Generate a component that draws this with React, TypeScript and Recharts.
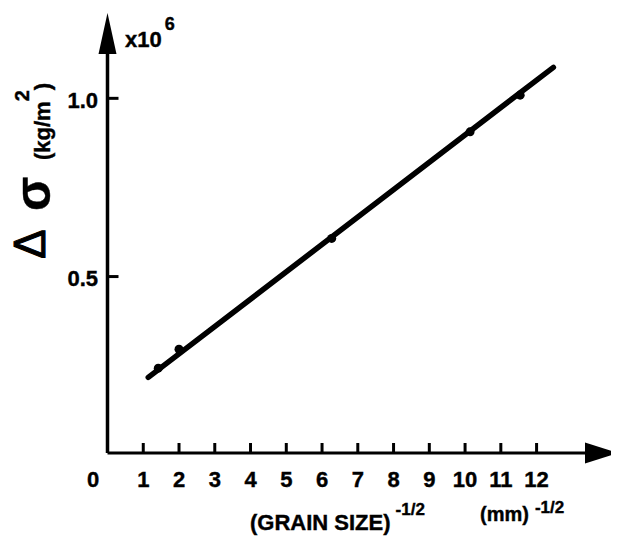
import { ComposedChart, Line, Scatter, XAxis, YAxis, ReferenceDot } from "recharts";

// measured points (x = grain size^-1/2, y = delta sigma in 10^6 kg/m^2)
const measuredX = [1.42, 2.0, 6.27, 10.14, 11.54];
const measuredY = [0.243, 0.296, 0.607, 0.906, 1.009];

// ends of the fitted straight line
const fitX = [1.14, 12.47];
const fitY = [0.217, 1.087];

const xTicks = [0, 1, 2, 3, 4, 5, 6, 7, 8, 9, 10, 11, 12];
const yTicks = [0.5, 1.0];

// axis ends (where the arrow heads sit)
const xDomain: [number, number] = [0, 13.41];
const yDomain: [number, number] = [0.005, 1.13];

const points = measuredX.map((x, i) => ({ x, y: measuredY[i] }));
const fit = fitX.map((x, i) => ({ x, y: fitY[i] }));

const FONT = '"Liberation Sans", Arial, Helvetica, sans-serif';

const XTick = (props: any) => {
  const { x, y, payload } = props;
  const v = payload.value;
  return (
    <g>
      {v !== 0 && <line x1={x} x2={x} y1={y} y2={y - 10} stroke="#000" strokeWidth={3} />}
      <text
        x={v === 0 ? x - 14.5 : x}
        y={y + 34}
        textAnchor="middle"
        fontFamily={FONT}
        fontWeight="bold"
        fontSize={22}
        fill="#000"
        stroke="#000"
        strokeWidth={0.4}
      >
        {v}
      </text>
    </g>
  );
};

const YTick = (props: any) => {
  const { x, y, payload } = props;
  return (
    <g>
      <line x1={x} x2={x + 11} y1={y} y2={y} stroke="#000" strokeWidth={3} />
      <text
        x={x - 9.5}
        y={y + 2}
        dy="0.36em"
        textAnchor="end"
        fontFamily={FONT}
        fontWeight="bold"
        fontSize={22}
        fill="#000"
        stroke="#000"
        strokeWidth={0.4}
      >
        {payload.value.toFixed(1)}
      </text>
    </g>
  );
};

const ArrowRight = (props: any) => {
  const { cx, cy } = props;
  return <path d={`M${cx - 2},${cy - 10.5} L${cx + 31},${cy} L${cx - 2},${cy + 10.5} Z`} fill="#000" />;
};

const ArrowUp = (props: any) => {
  const { cx, cy } = props;
  return <path d={`M${cx - 9},${cy + 2} L${cx},${cy - 39} L${cx + 9},${cy + 2} Z`} fill="#000" />;
};

const App = () => {
  return (
    <div style={{ position: "relative", width: 611, height: 530 }}>
      <ComposedChart width={611} height={530} margin={{ top: 44, right: 32, bottom: 45, left: 0 }}>
        <XAxis
          dataKey="x"
          type="number"
          domain={xDomain}
          ticks={xTicks}
          interval={0}
          allowDataOverflow
          height={40}
          tickSize={0}
          tickMargin={0}
          tick={<XTick />}
          axisLine={{ stroke: "#000", strokeWidth: 3 }}
        />
        <YAxis
          type="number"
          domain={yDomain}
          ticks={yTicks}
          interval={0}
          allowDataOverflow
          width={99.5}
          tickSize={0}
          tickMargin={0}
          tick={<YTick />}
          axisLine={{ stroke: "#000", strokeWidth: 3.5 }}
        />
        <Line
          data={fit}
          dataKey="y"
          stroke="#000"
          strokeWidth={5.5}
          strokeLinecap="round"
          dot={false}
          isAnimationActive={false}
        />
        <Scatter data={points} dataKey="y" fill="#000" isAnimationActive={false} />
        <ReferenceDot x={xDomain[1]} y={yDomain[0]} r={0} ifOverflow="visible" shape={ArrowRight} />
        <ReferenceDot x={xDomain[0]} y={yDomain[1]} r={0} ifOverflow="visible" shape={ArrowUp} />
      </ComposedChart>

      {/* axis titles, drawn in page coordinates */}
      <svg
        width={619}
        height={538}
        style={{ position: "absolute", left: -8, top: -8, pointerEvents: "none" }}
        fontFamily={FONT}
        fontWeight="bold"
        fill="#000"
        stroke="#000"
        strokeWidth={0.4}
      >
        <text x={125} y={47} fontSize={22}>
          x10
          <tspan dx={3} dy={-17} fontSize={18}>6</tspan>
        </text>
        <text
          x={45}
          y={244}
          fontSize={44}
          fontWeight="normal"
          strokeWidth={1}
          textAnchor="middle"
          transform="rotate(-90 45 244)"
        >
          Δ
        </text>
        <text x={50} y={194} fontSize={50} textAnchor="middle" transform="rotate(-90 50 194)">
          σ
        </text>
        <text x={50} y={160} fontSize={22} transform="rotate(-90 50 160)">
          (kg/m
          <tspan dy={-21} fontSize={20}>2</tspan>
          <tspan dy={21}>)</tspan>
        </text>
        <text x={250} y={530} fontSize={22}>
          (GRAIN SIZE)
          <tspan dx={5} dy={-15} fontSize={17}>-1/2</tspan>
        </text>
        <text x={480} y={521} fontSize={20}>
          (mm)
          <tspan dx={6} dy={-8} fontSize={17}>-1/2</tspan>
        </text>
      </svg>
    </div>
  );
};

export default App;
